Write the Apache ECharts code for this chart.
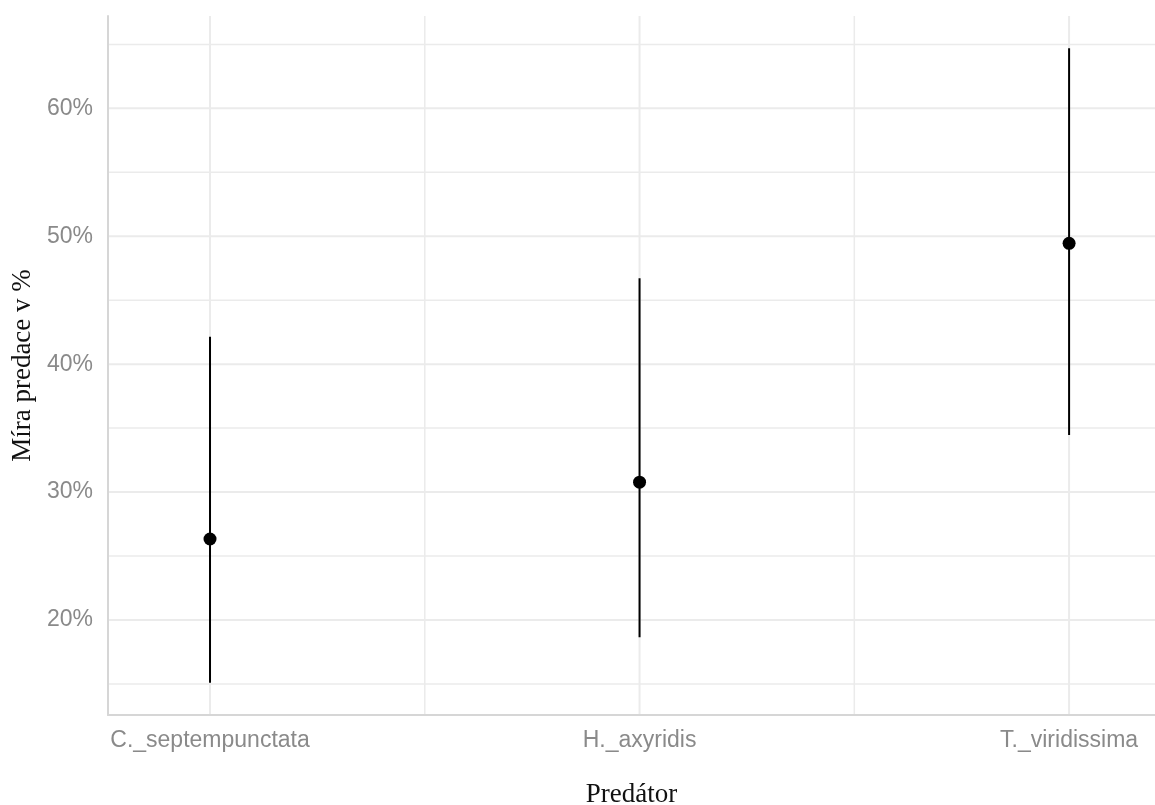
<!DOCTYPE html>
<html>
<head>
<meta charset="utf-8">
<title>Míra predace</title>
<script src="https://cdn.jsdelivr.net/npm/echarts@6/dist/echarts.min.js"></script>
<style>
  html, body { margin: 0; padding: 0; background: #fff; overflow: hidden; }
  #chart { width: 1155px; height: 805px; }
</style>
</head>
<body>
<div id="chart"></div>
<script>
// Predation rate (%) per predator: point estimate with interval bounds
const categories = ['C._septempunctata', 'H._axyridis', 'T._viridissima'];
const estimate = [26.33, 30.77, 49.45];
const lower = [15.1, 18.65, 34.46];
const upper = [42.15, 46.72, 64.7];

// Panel gridlines (y in %, x in category positions 1..n)
const yMajorGrid = [20, 30, 40, 50, 60];
const yMinorGrid = [15, 25, 35, 45, 55, 65];
const xMajorGrid = [1, 2, 3];
const xMinorGrid = [1.5, 2.5];

const X_MIN = 0.7625, X_MAX = 3.2;
const Y_MIN = 12.57, Y_MAX = 67.22;

const GRID_COLOR = '#ebebeb';

// gridline items: [orientation (0 = horizontal, 1 = vertical), value, width]
const gridItems = []
  .concat(yMinorGrid.map(v => [0, v, 1.5]))
  .concat(yMajorGrid.map(v => [0, v, 2]))
  .concat(xMinorGrid.map(v => [1, v, 1.5]))
  .concat(xMajorGrid.map(v => [1, v, 2]));

const chart = echarts.init(document.getElementById('chart'), null, { renderer: 'canvas' });

chart.setOption({
  backgroundColor: '#ffffff',
  animation: false,
  grid: {
    left: 108, right: 0, top: 16, bottom: 90,
    containLabel: false,
    outerBoundsMode: 'none'
  },
  xAxis: {
    type: 'value',
    min: X_MIN,
    max: X_MAX,
    z: 5,
    name: 'Predátor',
    nameLocation: 'middle',
    nameGap: 66,
    nameTextStyle: { fontFamily: 'Liberation Serif', fontSize: 27, color: '#111' },
    axisLine: { show: true, lineStyle: { color: '#d6d6d6', width: 2 } },
    axisTick: { show: false },
    splitLine: { show: false },
    axisLabel: {
      margin: 14,
      fontFamily: 'Liberation Sans',
      fontSize: 23,
      color: '#8a8a8a',
      showMinLabel: false,
      showMaxLabel: false,
      formatter: v => {
        const i = Math.round(v);
        return Math.abs(v - i) < 1e-6 && categories[i - 1] ? categories[i - 1] : '';
      }
    }
  },
  yAxis: {
    type: 'value',
    min: Y_MIN,
    max: Y_MAX,
    splitNumber: 5,
    z: 5,
    name: 'Míra predace v %',
    nameLocation: 'middle',
    nameGap: 72,
    nameTextStyle: { fontFamily: 'Liberation Serif', fontSize: 27, color: '#111' },
    axisLine: { show: true, lineStyle: { color: '#d6d6d6', width: 2 } },
    axisTick: { show: false },
    splitLine: { show: false },
    axisLabel: {
      margin: 15,
      padding: [4, 0, 0, 0],
      fontFamily: 'Liberation Sans',
      fontSize: 23,
      color: '#8a8a8a',
      showMinLabel: false,
      showMaxLabel: false,
      formatter: v => {
        const r = Math.round(v);
        return Math.abs(v - r) < 1e-6 && r % 10 === 0 ? r + '%' : '';
      }
    }
  },
  series: [
    {
      // panel gridlines
      type: 'custom',
      silent: true,
      z: 0,
      data: gridItems,
      encode: { x: -1, y: -1 },
      renderItem: (params, api) => {
        const cs = params.coordSys;
        const orient = api.value(0);
        const v = api.value(1);
        const w = api.value(2);
        let shape;
        if (orient === 0) {
          const y = api.coord([1, v])[1];
          shape = { x1: cs.x, y1: y, x2: cs.x + cs.width, y2: y };
        } else {
          const x = api.coord([v, 20])[0];
          shape = { x1: x, y1: cs.y, x2: x, y2: cs.y + cs.height };
        }
        return { type: 'line', shape, style: { stroke: GRID_COLOR, lineWidth: w } };
      }
    },
    {
      // interval bars
      type: 'custom',
      silent: true,
      z: 2,
      data: categories.map((c, i) => [i + 1, lower[i], upper[i]]),
      encode: { x: 0, y: [1, 2] },
      renderItem: (params, api) => {
        const lo = api.coord([api.value(0), api.value(1)]);
        const hi = api.coord([api.value(0), api.value(2)]);
        return {
          type: 'line',
          shape: { x1: lo[0], y1: lo[1], x2: hi[0], y2: hi[1] },
          style: { stroke: '#000', lineWidth: 2 }
        };
      }
    },
    {
      // point estimates
      type: 'scatter',
      z: 3,
      symbol: 'circle',
      symbolSize: 13,
      itemStyle: { color: '#000', opacity: 1 },
      data: categories.map((c, i) => [i + 1, estimate[i]])
    }
  ]
});
</script>
</body>
</html>
